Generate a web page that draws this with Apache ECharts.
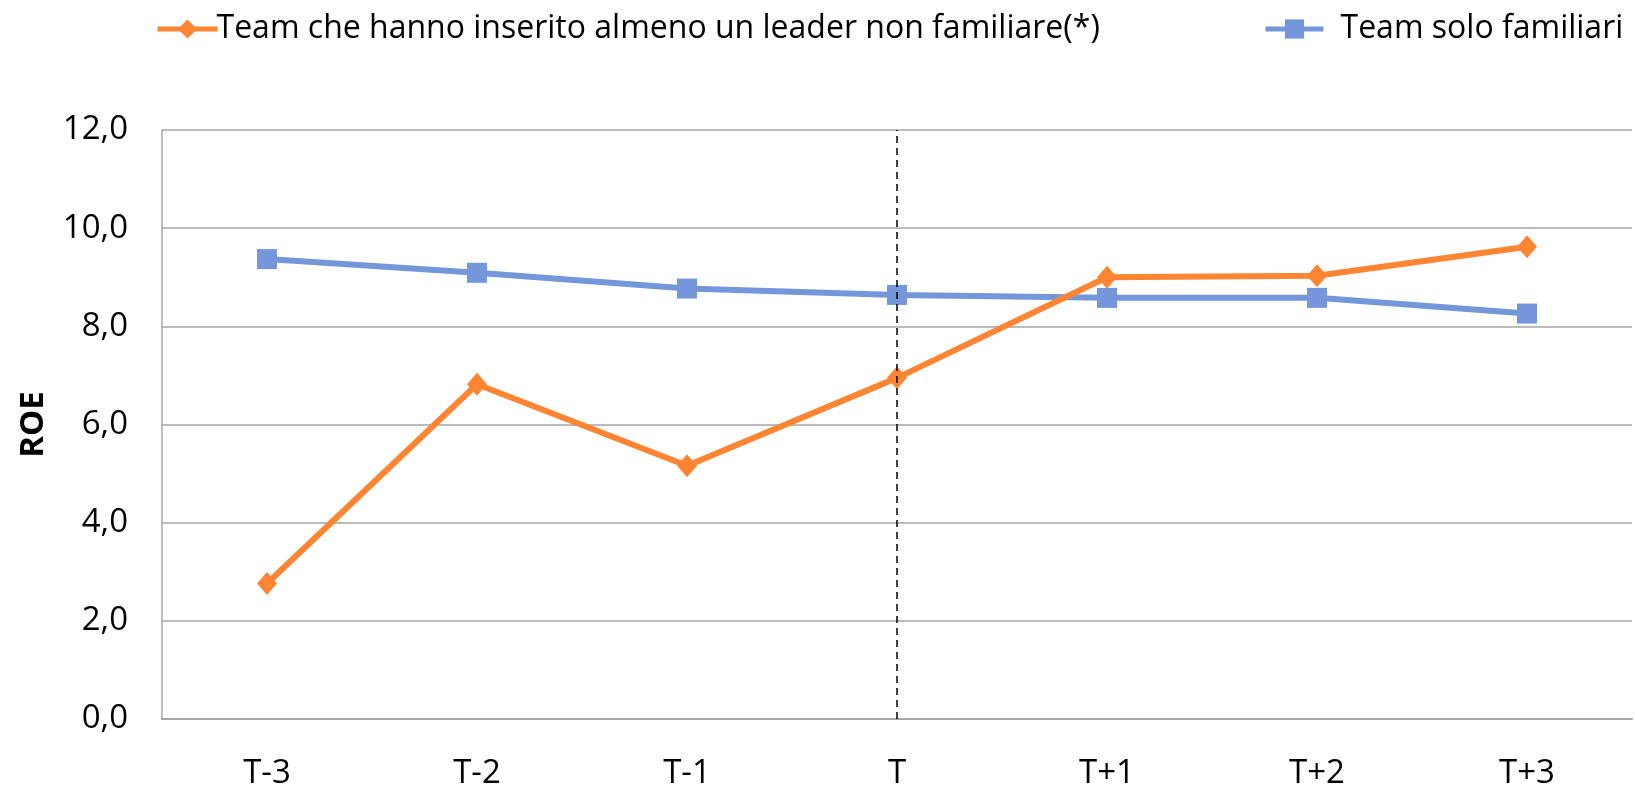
<!DOCTYPE html>
<html>
<head>
<meta charset="utf-8">
<script src="https://cdn.jsdelivr.net/npm/echarts@6/dist/echarts.min.js"></script>
<style>
  html, body { margin: 0; padding: 0; background: #fff; }
  #main { width: 1635px; height: 795px; }
</style>
</head>
<body>
<div id="main"></div>
<script>
// categorie (anni rispetto all'ingresso del leader)
var periodi = ['T-3', 'T-2', 'T-1', 'T', 'T+1', 'T+2', 'T+3'];
var nomeNonFam = 'Team che hanno inserito almeno un leader non familiare(*)';
var nomeFam = 'Team solo familiari';
// ROE
var roeNonFam = [2.76, 6.82, 5.16, 6.95, 9.0, 9.03, 9.62];
var roeFam = [9.37, 9.09, 8.77, 8.64, 8.58, 8.58, 8.26];
var periodoSvolta = 'T';

var font = '"Open Sans", "Noto Sans", sans-serif';
var myChart = echarts.init(document.getElementById('main'));

myChart.setOption({
    backgroundColor: '#fff',
    animation: false,
    textStyle: { fontFamily: font },
    legend: [{
        data: [nomeNonFam],
        left: 150,
        top: 8,
        itemWidth: 60,
        itemHeight: 24,
        lineStyle: { width: 5 },
        textStyle: { fontSize: 32, color: '#000', fontFamily: font, padding: [0, 0, 0, -6] }
    }, {
        data: [nomeFam],
        left: 1258,
        top: 8,
        itemWidth: 58,
        itemHeight: 24,
        lineStyle: { width: 5 },
        textStyle: { fontSize: 32, color: '#000', fontFamily: font, padding: [0, 0, 0, 12] }
    }],
    grid: {
        left: 162,
        right: 3,
        top: 130,
        bottom: 76
    },
    xAxis: {
        type: 'category',
        data: periodi,
        boundaryGap: true,
        axisLine: { lineStyle: { color: '#a6a6a6', width: 2 } },
        axisTick: { show: false },
        axisLabel: { fontSize: 33, color: '#000', margin: 38, fontFamily: font }
    },
    yAxis: {
        type: 'value',
        min: 0,
        max: 12,
        interval: 2,
        name: 'ROE',
        nameLocation: 'middle',
        nameGap: 112,
        nameRotate: 90,
        nameTextStyle: { fontSize: 33, fontWeight: 'bold', color: '#000', fontFamily: font },
        axisLine: { show: true, lineStyle: { color: '#a6a6a6', width: 1.5 } },
        axisTick: { show: false },
        splitLine: { lineStyle: { color: '#a6a6a6', width: 1.5 } },
        axisLabel: {
            fontSize: 33,
            color: '#000',
            margin: 34,
            fontFamily: font,
            formatter: function (v) { return v.toFixed(1).replace('.', ','); }
        }
    },
    series: [{
        name: nomeNonFam,
        type: 'line',
        data: roeNonFam,
        symbol: 'diamond',
        symbolSize: [20, 23],
        lineStyle: { width: 6, color: '#ff8533' },
        itemStyle: { color: '#ff8533' },
        markLine: {
            silent: true,
            symbol: 'none',
            label: { show: false },
            lineStyle: { color: '#000', type: [7, 5], width: 1.5 },
            data: [{ xAxis: periodoSvolta }]
        },
        z: 3
    }, {
        name: nomeFam,
        type: 'line',
        data: roeFam,
        symbol: 'rect',
        symbolSize: 20,
        lineStyle: { width: 6, color: '#7397da' },
        itemStyle: { color: '#7397da' },
        z: 2
    }]
});
</script>
</body>
</html>
